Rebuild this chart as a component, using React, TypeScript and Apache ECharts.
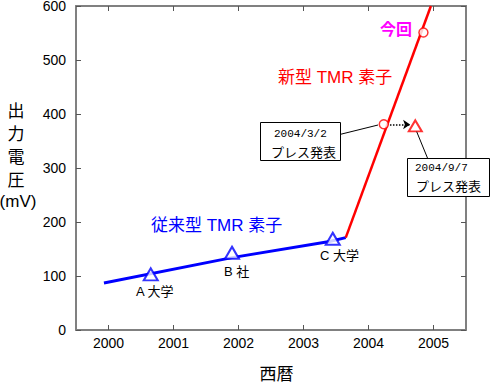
import React, { useEffect, useRef } from "react";
import * as echarts from "echarts";

const yearTicks = [2000, 2001, 2002, 2003, 2004, 2005];
const voltTicks = [0, 100, 200, 300, 400, 500, 600];

const conventionalLine: [number, number][] = [
  [1999.93, 87],
  [2001.9, 134],
  [2003.4, 164],
  [2003.65, 171],
];
const newLine: [number, number][] = [
  [2003.65, 171],
  [2004.96, 600],
];
const conventionalPoints: [number, number][] = [
  [2000.65, 103],
  [2001.9, 143],
  [2003.45, 169],
];
const newCircles: [number, number][] = [
  [2004.235, 381],
  [2004.845, 551],
];
const newTriangle: [number, number][] = [[2004.72, 378]];
const arrowFrom: [number, number] = [2004.33, 380.5];
const arrowTo: [number, number] = [2004.64, 380.5];

const FONT = "'Liberation Sans', Arial, 'Noto Sans CJK JP', sans-serif";
const CJK = "'Noto Sans CJK JP', 'Liberation Sans', sans-serif";
const MONO = "'Liberation Mono', 'DejaVu Sans Mono', monospace";

export default function App() {
  const ref = useRef<HTMLDivElement>(null);
  useEffect(() => {
    if (!ref.current) return;
    const chart = echarts.init(ref.current, undefined, { renderer: "svg" });
    const axisLine = { show: true, onZero: false, lineStyle: { color: "#808080", width: 2 } };
    const tickStyle = { color: "#555", width: 1 };
    const txt = (x: number, y: number, text: string, size: number, color = "#000", extra: any = {}) => ({
      type: "text",
      x,
      y,
      style: {
        text,
        fontSize: size,
        fill: color,
        fontFamily: extra.fontFamily || FONT,
        fontWeight: extra.fontWeight || "normal",
        textAlign: extra.align || "left",
        textVerticalAlign: "middle",
        lineHeight: extra.lineHeight,
      },
      z: 10,
    });
    chart.setOption({
      animation: false,
      backgroundColor: "#fff",
      grid: { left: 76, top: 6, right: 25, bottom: 53, containLabel: false, outerBoundsMode: "none" },
      xAxis: [
        {
          type: "value",
          min: 1999.5,
          max: 2005.5,
          position: "bottom",
          axisLine,
          axisTick: { show: true, inside: true, length: 5, customValues: yearTicks, lineStyle: tickStyle },
          axisLabel: {
            customValues: yearTicks,
            formatter: (v: number) => String(Math.round(v)),
            fontSize: 14,
            color: "#000",
            margin: 6,
            fontFamily: FONT,
          },
          splitLine: { show: false },
        },
        {
          type: "value",
          min: 1999.5,
          max: 2005.5,
          position: "top",
          axisLine,
          axisTick: { show: true, inside: true, length: 5, customValues: yearTicks, lineStyle: tickStyle },
          axisLabel: { show: false },
          splitLine: { show: false },
        },
      ],
      yAxis: [
        {
          type: "value",
          min: voltTicks[0],
          max: voltTicks[voltTicks.length - 1],
          interval: 100,
          position: "left",
          axisLine,
          axisTick: { show: true, inside: true, length: 5, lineStyle: tickStyle },
          axisLabel: { fontSize: 14, color: "#000", margin: 10, fontFamily: FONT },
          splitLine: { show: false },
        },
        {
          type: "value",
          min: voltTicks[0],
          max: voltTicks[voltTicks.length - 1],
          interval: 100,
          position: "right",
          axisLine,
          axisTick: { show: true, inside: true, length: 5, lineStyle: tickStyle },
          axisLabel: { show: false },
          splitLine: { show: false },
        },
      ],
      series: [
        {
          type: "line",
          data: conventionalLine,
          showSymbol: false,
          symbol: "none",
          lineStyle: { color: "#0000ff", width: 3 },
          z: 2,
        },
        {
          type: "line",
          data: newLine,
          showSymbol: false,
          symbol: "none",
          lineStyle: { color: "#ff0000", width: 2.5 },
          z: 2,
          markLine: {
            silent: true,
            symbol: ["none", "arrow"],
            symbolSize: [7, 7],
            label: { show: false },
            lineStyle: { color: "#000", type: "dotted", width: 1.5 },
            data: [[{ coord: arrowFrom }, { coord: arrowTo }]],
          },
        },
        {
          type: "scatter",
          data: conventionalPoints,
          symbol: "triangle",
          symbolSize: [14, 12],
          itemStyle: { color: "#fff", borderColor: "#0000ff", borderWidth: 2 },
          z: 3,
        },
        {
          type: "scatter",
          data: newCircles,
          symbol: "circle",
          symbolSize: 9,
          itemStyle: { color: "#fff", borderColor: "#ff0000", borderWidth: 1.5 },
          z: 3,
        },
        {
          type: "scatter",
          data: newTriangle,
          symbol: "triangle",
          symbolSize: [13, 11],
          itemStyle: { color: "#fff", borderColor: "#ff0000", borderWidth: 2 },
          z: 3,
        },
      ],
      graphic: [
        txt(16, 143.5, "出\n力\n電\n圧", 17, "#000", { fontFamily: CJK, align: "center", lineHeight: 23 }),
        txt(18, 201, "(mV)", 17, "#000", { align: "center" }),
        txt(276.5, 372, "西暦", 17, "#000", { fontFamily: CJK, align: "center" }),
        txt(396, 28, "今回", 16, "#ff00ff", { fontFamily: CJK, align: "center", fontWeight: "bold" }),
        txt(278, 77, "新型 TMR 素子", 17, "#ff0000"),
        txt(151, 225, "従来型 TMR 素子", 17, "#0000ff"),
        txt(136, 291, "A 大学", 13),
        txt(224, 271, "B 社", 13),
        txt(320, 255, "C 大学", 13),
        {
          type: "line",
          shape: { x1: 340.5, y1: 134.3, x2: 378, y2: 125 },
          style: { stroke: "#000", lineWidth: 1 },
          z: 5,
        },
        {
          type: "line",
          shape: { x1: 427.7, y1: 158.5, x2: 416.7, y2: 131.7 },
          style: { stroke: "#000", lineWidth: 1 },
          z: 5,
        },
        {
          type: "rect",
          shape: { x: 260.5, y: 122.5, width: 80, height: 38 },
          style: { fill: "#fff", stroke: "#000", lineWidth: 1 },
          z: 9,
        },
        txt(274, 134.2, "2004/3/2", 11, "#000", { fontFamily: MONO }),
        txt(271, 151.7, "プレス発表", 13, "#000", { fontFamily: CJK }),
        {
          type: "rect",
          shape: { x: 407.5, y: 158.5, width: 82, height: 38 },
          style: { fill: "#fff", stroke: "#000", lineWidth: 1 },
          z: 9,
        },
        txt(415, 168.3, "2004/9/7", 11, "#000", { fontFamily: MONO }),
        txt(416, 185, "プレス発表", 13, "#000", { fontFamily: CJK }),
      ],
    });
    return () => chart.dispose();
  }, []);
  return (
    <div
      ref={ref}
      style={{ position: "fixed", left: 0, top: 0, width: 491, height: 383, background: "#fff" }}
    />
  );
}
